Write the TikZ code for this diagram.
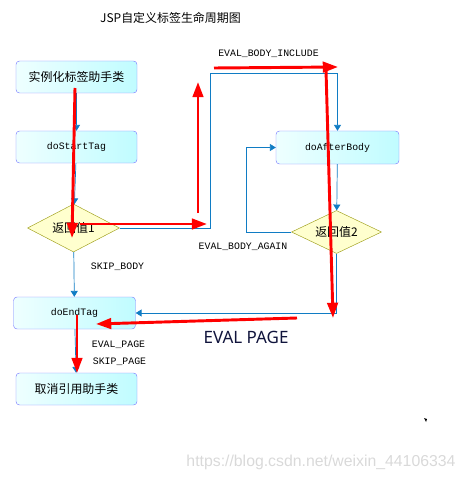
\documentclass[tikz,border=0pt]{standalone}
\usepackage{fontspec}
\setmonofont{Liberation Mono}
\newfontfamily\cjk{Noto Sans CJK SC}
\newfontfamily\sanslatin{Noto Sans}
\newfontfamily\marcaweb{Liberation Sans}
\usepackage{tikz}
\usetikzlibrary{shapes.geometric, arrows.meta}

\definecolor{azullinea}{RGB}{16,124,196}
\definecolor{bordecaja}{RGB}{128,128,255}
\definecolor{cianclaro}{RGB}{238,255,255}
\definecolor{cianfuerte}{RGB}{192,252,255}
\definecolor{bordeamarillo}{RGB}{160,160,30}
\definecolor{amarilloclaro}{RGB}{255,255,206}
\definecolor{azultexto}{RGB}{16,20,60}

\begin{document}
\begin{tikzpicture}[x=0.03cm, y=-0.03cm,
    caja/.style={draw=bordecaja, rounded corners=3pt, left color=cianclaro, right color=cianfuerte,
                 minimum width=3.63cm, minimum height=0.96cm, inner sep=0pt},
    rombo/.style={diamond, draw=bordeamarillo, fill=amarilloclaro, aspect=2, inner sep=0pt},
    chino/.style={font=\cjk\fontsize{10.2}{12}\selectfont},
    mono/.style={font=\ttfamily\fontsize{8.4}{10}\selectfont},
    flujo/.style={azullinea, line width=0.6pt, -{Triangle[length=5pt,width=6pt]}},
    marcado/.style={red, line width=2.5pt, -{Triangle[length=13pt,width=9pt]}}]
    \useasboundingbox (0,0) rectangle (467,480);

    % Titulo
    \node (titulo) [chino] at (170.5,18) {JSP自定义标签生命周期图};

    % Cajas de la columna izquierda
    \node (instancia) [caja, chino] at (76.5,77) {实例化标签助手类};
    \node (inicio) [caja, mono] at (76.5,147) {doStartTag};
    \node (valor1) [rombo, chino, minimum width=2.76cm, minimum height=1.44cm] at (73.5,228) {返回值1};
    \node (fin) [caja, mono, minimum width=3.66cm] at (74.5,313) {doEndTag};
    \node (libera) [caja, chino] at (76.5,389) {取消引用助手类};

    % Cajas de la columna derecha
    \node (despues) [caja, mono, minimum width=3.69cm, minimum height=0.99cm] at (337.5,147.5) {doAfterBody};
    \node (valor2) [rombo, chino, minimum width=2.7cm, minimum height=1.29cm] at (336.5,232) {返回值2};

    % Esquinas de los conectores
    \coordinate (esquina1) at (210,73);
    \coordinate (esquina2) at (246,232);

    % Conectores azules
    \draw [flujo] (instancia) -- (inicio);
    \draw [flujo] (inicio) -- (valor1);
    \draw [flujo] (valor1.east) -| (esquina1) -| (despues.north);
    \draw [flujo] (despues) -- (valor2);
    \draw [flujo] (valor2.west) -- (esquina2) |- (despues.west);
    \draw [flujo] (valor2.south) |- (fin.east);
    \draw [flujo] (valor1) -- (fin);
    \draw [flujo] (fin) -- (libera);

    % Etiquetas de los valores de retorno
    \node (incluir) [mono] at (268.5,54) {EVAL\_BODY\_INCLUDE};
    \node (saltar) [mono] at (117.5,267) {SKIP\_BODY};
    \node (otravez) [mono] at (243,247) {EVAL\_BODY\_AGAIN};
    \node (evalpag) [mono] at (118.5,345) {EVAL\_PAGE};
    \node (saltpag) [mono] at (119.5,362) {SKIP\_PAGE};

    % Flechas rojas dibujadas a mano
    \coordinate (r1a) at (75,88);   \coordinate (r1b) at (72,238);
    \coordinate (r2a) at (80,224);  \coordinate (r2b) at (207,224);
    \coordinate (r3a) at (198,213); \coordinate (r3b) at (198,82);
    \coordinate (r4a) at (214,68);  \coordinate (r4b) at (338,67);
    \coordinate (r5a) at (326,70);  \coordinate (r5b) at (333,318);
    \coordinate (r6a) at (297,318); \coordinate (r6b) at (96,324);
    \coordinate (r7a) at (77,315);  \coordinate (r7b) at (77,373);
    \draw [marcado] (r1a) -- (r1b);
    \draw [marcado] (r2a) -- (r2b);
    \draw [marcado] (r3a) -- (r3b);
    \draw [marcado] (r4a) -- (r4b);
    \draw [marcado] (r5a) -- (r5b);
    \draw [marcado] (r6a) -- (r6b);
    \draw [marcado] (r7a) -- (r7b);
    \node (pagina) [font=\sanslatin\fontsize{14.5}{17}\selectfont, text=azultexto] at (246,337) {EVAL PAGE};

    % Marca de agua y punto suelto
    \node (marca) [font=\marcaweb\fontsize{13.5}{16}\selectfont, text=gray!30] at (321,462) {https://blog.csdn.net/weixin\_44106334};
    \fill (424,418) -- (427,419) -- (426,422) -- cycle;
\end{tikzpicture}
\end{document}
